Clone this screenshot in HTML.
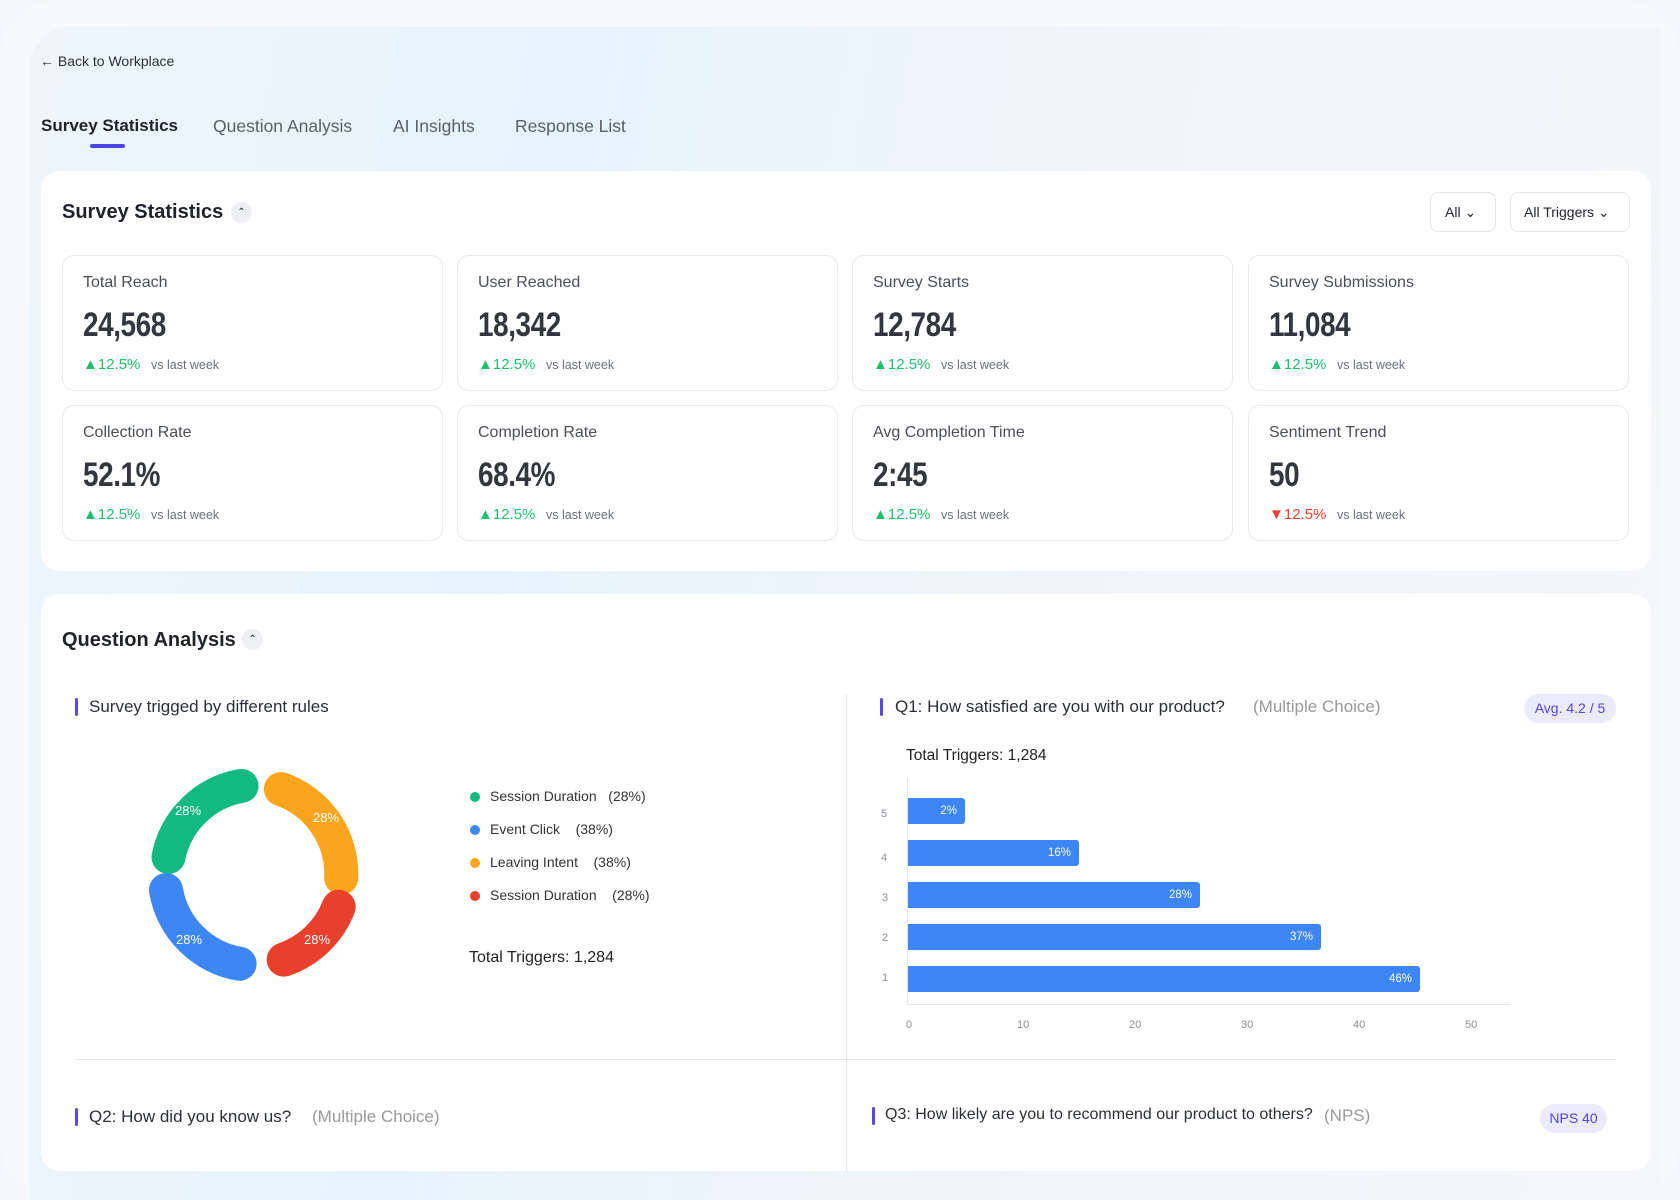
<!DOCTYPE html>
<html><head><meta charset="utf-8"><style>
*{box-sizing:border-box;margin:0;padding:0}
body{width:1680px;height:1200px;overflow:hidden;font-family:"Liberation Sans",sans-serif;background:#f4f8fc;position:relative;color:#1f2329}
.frame{position:absolute;left:0;top:0;width:1680px;height:1200px;border-radius:60px;background:#f7fafd}
.inner{position:absolute;left:30px;top:27px;width:1630px;height:1173px;border-radius:40px 0 0 0;background:linear-gradient(100deg,#eef6fc 0%,#e6f3fd 30%,#f1f5fa 60%,#f4f6f9 100%)}
.abs{position:absolute;white-space:nowrap}
.card{position:absolute;background:#fff;border-radius:18px}
.stat{position:absolute;width:381px;height:136px;border:1px solid #e8eaed;border-radius:12px;background:#fff}
.stat .l{position:absolute;left:20px;top:18px;font-size:16px;color:#4a4f57}
.stat .v{position:absolute;left:20px;top:50px;font-size:34px;font-weight:bold;color:#33373d;letter-spacing:-0.5px;transform:scaleX(.82);transform-origin:left}
.stat .d{position:absolute;left:20px;top:100px;font-size:15px;color:#1fbf6c}
.stat .d.r{color:#ef3d2f}
.stat .w{position:absolute;left:88px;top:102px;font-size:12.5px;color:#6b7079}
.bar{position:absolute;width:3px;height:18px;background:#5b47e8;border-radius:2px}
.tick{position:absolute;font-size:11px;color:#8a8f98}
.hb{position:absolute;left:908px;height:26px;background:#3d86f5;border-radius:0 3px 3px 0;color:#fff;font-size:11.5px;text-align:right;padding-right:8px;line-height:26px}
.dot{position:absolute;width:10px;height:10px;border-radius:50%}
.lg{position:absolute;font-size:14px;color:#333}
.tab{position:absolute;top:116px;font-size:17.5px;color:#5a5f68;white-space:nowrap}
</style></head><body>
<div class="frame"></div>
<div class="inner"></div>
<div class="abs" style="left:40px;top:53px;font-size:14px;color:#2b2f36">&#8592; Back to Workplace</div>
<div class="tab" style="left:41px;font-weight:bold;color:#1f2329;font-size:17px">Survey Statistics</div>
<div class="tab" style="left:213px">Question Analysis</div>
<div class="tab" style="left:393px">AI Insights</div>
<div class="tab" style="left:515px">Response List</div>
<div class="abs" style="left:90px;top:144px;width:35px;height:4px;border-radius:2px;background:#4f46e5"></div>

<div class="card" style="left:41px;top:171px;width:1610px;height:400px"></div>
<div class="abs" style="left:62px;top:201px;font-size:20px;font-weight:bold">Survey Statistics</div>
<div class="abs" style="left:231px;top:202px;width:21px;height:21px;border-radius:50%;background:#eef0f3;font-size:10px;text-align:center;line-height:22px">&#8963;</div>
<div class="abs" style="left:1430px;top:192px;width:66px;height:40px;border:1px solid #e1e4e8;border-radius:8px;font-size:14px;line-height:38px;padding-left:14px">All &#8964;</div>
<div class="abs" style="left:1510px;top:192px;width:120px;height:40px;border:1px solid #e1e4e8;border-radius:8px;font-size:14px;line-height:38px;padding-left:13px">All Triggers &#8964;</div>

<div class="stat" style="left:62px;top:255px"><div class="l">Total Reach</div><div class="v">24,568</div><div class="d">&#9650;12.5%</div><div class="w">vs last week</div></div>
<div class="stat" style="left:457px;top:255px"><div class="l">User Reached</div><div class="v">18,342</div><div class="d">&#9650;12.5%</div><div class="w">vs last week</div></div>
<div class="stat" style="left:852px;top:255px"><div class="l">Survey Starts</div><div class="v">12,784</div><div class="d">&#9650;12.5%</div><div class="w">vs last week</div></div>
<div class="stat" style="left:1248px;top:255px"><div class="l">Survey Submissions</div><div class="v">11,084</div><div class="d">&#9650;12.5%</div><div class="w">vs last week</div></div>
<div class="stat" style="left:62px;top:405px"><div class="l">Collection Rate</div><div class="v">52.1%</div><div class="d">&#9650;12.5%</div><div class="w">vs last week</div></div>
<div class="stat" style="left:457px;top:405px"><div class="l">Completion Rate</div><div class="v">68.4%</div><div class="d">&#9650;12.5%</div><div class="w">vs last week</div></div>
<div class="stat" style="left:852px;top:405px"><div class="l">Avg Completion Time</div><div class="v">2:45</div><div class="d">&#9650;12.5%</div><div class="w">vs last week</div></div>
<div class="stat" style="left:1248px;top:405px"><div class="l">Sentiment Trend</div><div class="v">50</div><div class="d r">&#9660;12.5%</div><div class="w">vs last week</div></div>

<div class="card" style="left:41px;top:594px;width:1610px;height:577px"></div>
<div class="abs" style="left:62px;top:629px;font-size:20px;font-weight:bold">Question Analysis</div>
<div class="abs" style="left:242px;top:629px;width:21px;height:21px;border-radius:50%;background:#eef0f3;font-size:10px;text-align:center;line-height:22px">&#8963;</div>
<div class="abs" style="left:846px;top:694px;width:1px;height:477px;background:#e3e5e8"></div>
<div class="abs" style="left:75px;top:1059px;width:1541px;height:1px;background:#e3e5e8"></div>

<div class="bar" style="left:75px;top:698px"></div>
<div class="abs" style="left:89px;top:697px;font-size:17px;color:#2b2f36">Survey trigged by different rules</div>
<svg class="abs" style="left:0;top:0" width="1680" height="1200">
<g fill="none" stroke-width="34" stroke-linecap="round">
<path d="M168.5,857 A90,90 0 0 1 241.5,785.9" stroke="#12b981"/>
<path d="M280.9,789.1 A90,90 0 0 1 341.2,878" stroke="#fba51d"/>
<path d="M338.7,906.8 A90,90 0 0 1 283.7,959.6" stroke="#e8402a"/>
<path d="M239.6,963.8 A90,90 0 0 1 166,890" stroke="#3d86f5"/>
</g>
<g font-family="Liberation Sans" font-size="13" fill="#fff" text-anchor="middle">
<text x="188" y="815">28%</text><text x="326" y="822">28%</text>
<text x="189" y="944">28%</text><text x="317" y="944">28%</text>
</g>
</svg>
<div class="dot" style="left:470px;top:792px;background:#12b981"></div><div class="lg" style="left:490px;top:788px">Session Duration&nbsp;&nbsp;&nbsp;(28%)</div>
<div class="dot" style="left:470px;top:825px;background:#3d86f5"></div><div class="lg" style="left:490px;top:821px">Event Click&nbsp;&nbsp;&nbsp;&nbsp;(38%)</div>
<div class="dot" style="left:470px;top:858px;background:#fba51d"></div><div class="lg" style="left:490px;top:854px">Leaving Intent&nbsp;&nbsp;&nbsp;&nbsp;(38%)</div>
<div class="dot" style="left:470px;top:891px;background:#e8402a"></div><div class="lg" style="left:490px;top:887px">Session Duration&nbsp;&nbsp;&nbsp;&nbsp;(28%)</div>
<div class="abs" style="left:469px;top:949px;font-size:16px;color:#222">Total Triggers: 1,284</div>

<div class="bar" style="left:880px;top:698px"></div>
<div class="abs" style="left:895px;top:697px;font-size:17px;color:#2b2f36">Q1: How satisfied are you with our product?</div>
<div class="abs" style="left:1253px;top:697px;font-size:17px;color:#999">(Multiple Choice)</div>
<div class="abs" style="left:1524px;top:694px;width:92px;height:29px;border-radius:15px;background:#ecebfd;color:#4f46e5;font-size:14px;line-height:29px;text-align:center">Avg. 4.2 / 5</div>
<div class="abs" style="left:906px;top:747px;font-size:15.5px;color:#222">Total Triggers: 1,284</div>
<div class="abs" style="left:907px;top:778px;width:1px;height:226px;background:#e3e5e8"></div>
<div class="abs" style="left:907px;top:1004px;width:604px;height:1px;background:#e3e5e8"></div>
<div class="hb" style="top:798px;width:57px">2%</div>
<div class="hb" style="top:840px;width:171px">16%</div>
<div class="hb" style="top:882px;width:292px">28%</div>
<div class="hb" style="top:924px;width:413px">37%</div>
<div class="hb" style="top:966px;width:512px">46%</div>
<div class="tick" style="left:881px;top:808px">5</div>
<div class="tick" style="left:881px;top:852px">4</div>
<div class="tick" style="left:882px;top:892px">3</div>
<div class="tick" style="left:882px;top:932px">2</div>
<div class="tick" style="left:882px;top:972px">1</div>
<div class="tick" style="left:906px;top:1019px">0</div>
<div class="tick" style="left:1017px;top:1019px">10</div>
<div class="tick" style="left:1129px;top:1019px">20</div>
<div class="tick" style="left:1241px;top:1019px">30</div>
<div class="tick" style="left:1353px;top:1019px">40</div>
<div class="tick" style="left:1465px;top:1019px">50</div>

<div class="bar" style="left:75px;top:1108px"></div>
<div class="abs" style="left:89px;top:1107px;font-size:17px;color:#2b2f36">Q2: How did you know us?</div>
<div class="abs" style="left:312px;top:1107px;font-size:17px;color:#999">(Multiple Choice)</div>
<div class="bar" style="left:872px;top:1107px"></div>
<div class="abs" style="left:885px;top:1106px;font-size:16px;color:#2b2f36">Q3: How likely are you to recommend our product to others?</div>
<div class="abs" style="left:1324px;top:1106px;font-size:17px;color:#999">(NPS)</div>
<div class="abs" style="left:1540px;top:1104px;width:67px;height:29px;border-radius:15px;background:#ecebfd;color:#4f46e5;font-size:14px;line-height:29px;text-align:center">NPS 40</div>
</body></html>
